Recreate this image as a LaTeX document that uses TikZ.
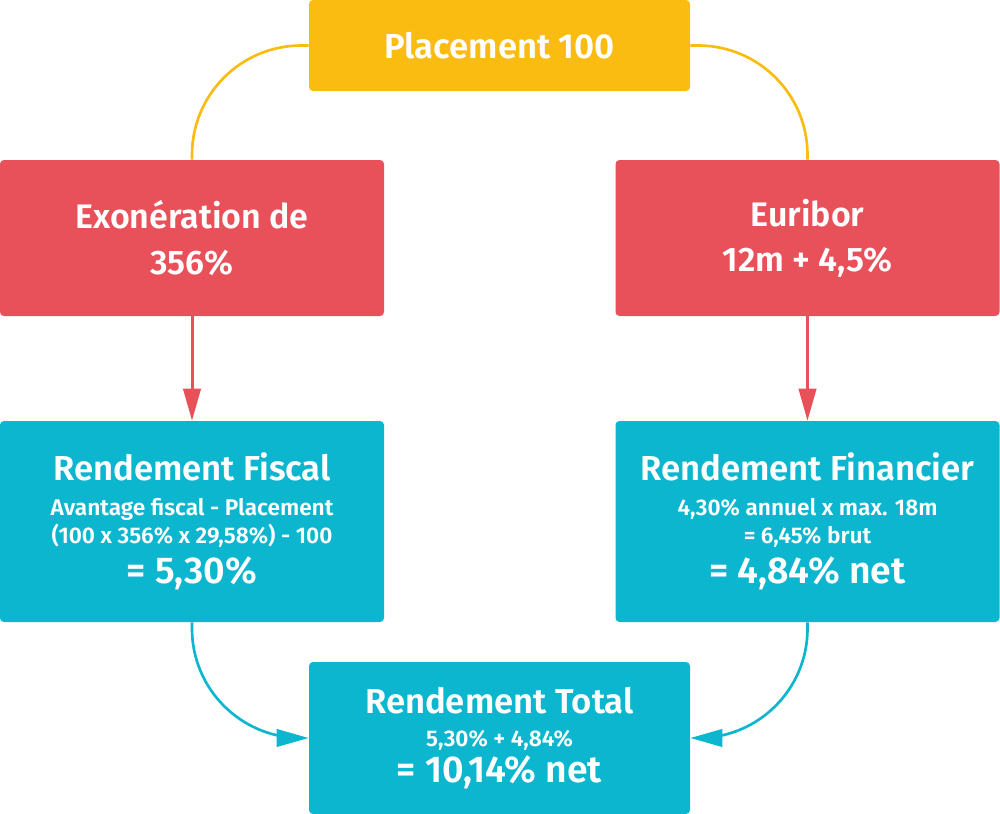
\documentclass[tikz,border=0pt]{standalone}
\usepackage{fontspec}
\setmainfont{Fira Sans SemiBold}
\usetikzlibrary{arrows.meta}

\definecolor{placementyellow}{HTML}{FBBC12}
\definecolor{sourcered}{HTML}{E9515A}
\definecolor{rendementteal}{HTML}{0CB6CF}

\newcommand\headsize{\fontsize{26}{30}\selectfont}
\newcommand\subsize{\fontsize{17}{21}\selectfont}
\newcommand\resultsize{\fontsize{28}{30}\selectfont}

\begin{document}
\begin{tikzpicture}[x=0.75pt,y=0.75pt,yscale=-1,xscale=1,
  box/.style={rounded corners=3pt,inner sep=0pt,align=center,text=white,minimum width=288pt},
  link/.style={line width=2pt,rounded corners=82pt},
  tip/.style={-{Triangle[length=24pt,width=13pt]}}]
%set diagram size: 1000 x 814
\path (0,0) rectangle (1000,814);

% Boxes
\node[box,fill=placementyellow,minimum width=285.75pt,minimum height=68.25pt,font=\fontsize{26}{30}\selectfont] (placement) at (499.5,45.5) {Placement 100};
\node[box,fill=sourcered,minimum height=117pt,font=\fontsize{25.5}{34}\selectfont] (exoneration) at (192,238) {Exonération de\\356\%};
\node[box,fill=sourcered,minimum height=117pt,font=\fontsize{25.5}{34}\selectfont] (euribor) at (807.5,238) {Euribor\\12m + 4,5\%};
\node[box,fill=rendementteal,minimum height=150.75pt,font=\subsize] (fiscal) at (192,521.5) {{\headsize Rendement Fiscal}\\[5pt]Avantage fiscal - Placement\\(100 x 356\% x 29,58\%) - 100\\[6pt]{\resultsize = 5,30\%}};
\node[box,fill=rendementteal,minimum height=150.75pt,font=\subsize] (financier) at (807.5,521.5) {{\headsize Rendement Financier}\\[5pt]4,30\% annuel x max. 18m\\= 6,45\% brut\\[6pt]{\resultsize = 4,84\% net}};
\node[box,fill=rendementteal,minimum width=285.75pt,minimum height=114pt,font=\subsize] (total) at (499.5,738) {{\headsize Rendement Total}\\[4pt]5,30\% + 4,84\%\\[3pt]{\resultsize = 10,14\% net}};

% Connectors
\draw[link,placementyellow] (placement.west) -| (exoneration.north);
\draw[link,placementyellow] (placement.east) -| (euribor.north);
\draw[line width=2.25pt,sourcered,tip] (exoneration.south) -- (fiscal.north);
\draw[line width=2.25pt,sourcered,tip] (euribor.south) -- (financier.north);
\draw[link,rendementteal,tip] (fiscal.south) |- (total.west);
\draw[link,rendementteal,tip] (financier.south) |- (total.east);

\end{tikzpicture}
\end{document}
